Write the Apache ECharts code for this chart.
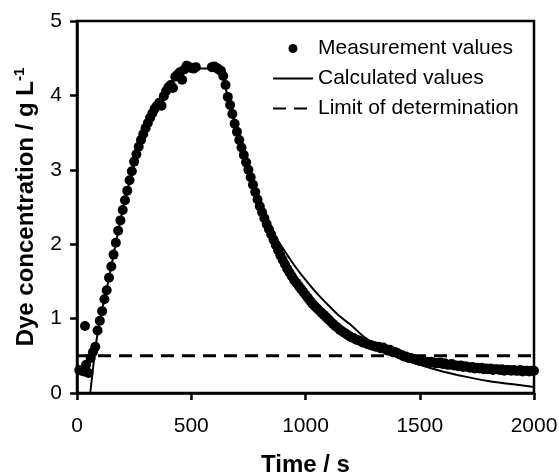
<!DOCTYPE html>
<html>
<head>
<meta charset="utf-8">
<script src="https://cdn.jsdelivr.net/npm/echarts@6/dist/echarts.min.js"></script>
<style>
  html, body { margin: 0; padding: 0; background: #fff; }
  #chart { width: 559px; height: 474px; }
</style>
</head>
<body>
<div id="chart"></div>
<script>
// measurement values (time in s, concentration in g/L)
var measTime = [
  10, 20, 30, 35, 40, 50, 60, 70, 80, 90,
  100, 110, 120, 130, 140, 150, 160, 170, 180, 190,
  200, 210, 220, 230, 240, 250, 260, 270, 280, 290,
  300, 310, 320, 330, 340, 350, 360, 370, 380, 390,
  400, 410, 420, 430, 440, 450, 460, 470, 480, 490,
  500, 510, 520, 590, 600, 610, 620, 630, 640, 650,
  660, 670, 680, 690, 700, 710, 720, 730, 740, 750,
  760, 770, 780, 790, 800, 810, 820, 830, 840, 850,
  860, 870, 880, 890, 900, 910, 920, 930, 940, 950,
  960, 970, 980, 990, 1000, 1010, 1020, 1030, 1040, 1050,
  1060, 1070, 1080, 1090, 1100, 1110, 1120, 1130, 1140, 1150,
  1160, 1170, 1180, 1190, 1200, 1210, 1220, 1230, 1240, 1250,
  1260, 1270, 1280, 1290, 1300, 1310, 1320, 1330, 1340, 1350,
  1360, 1370, 1380, 1390, 1400, 1410, 1420, 1430, 1440, 1450,
  1460, 1470, 1480, 1490, 1500, 1510, 1520, 1530, 1540, 1550,
  1560, 1570, 1580, 1590, 1600, 1610, 1620, 1630, 1640, 1650,
  1660, 1670, 1680, 1690, 1700, 1710, 1720, 1730, 1740, 1750,
  1760, 1770, 1780, 1790, 1800, 1810, 1820, 1830, 1840, 1850,
  1860, 1870, 1880, 1890, 1900, 1910, 1920, 1930, 1940, 1950,
  1960, 1970, 1980, 1990, 2000
];
var measConc = [
  0.31, 0.30, 0.29, 0.90, 0.38, 0.27, 0.47, 0.55, 0.62, 0.84,
  0.97, 1.10, 1.26, 1.38, 1.55, 1.70, 1.86, 2.02, 2.18, 2.32,
  2.46, 2.59, 2.72, 2.86, 2.98, 3.11, 3.21, 3.31, 3.40, 3.48,
  3.56, 3.63, 3.70, 3.76, 3.82, 3.86, 3.90, 3.86, 3.99, 4.06,
  4.11, 4.14, 4.10, 4.25, 4.28, 4.31, 4.21, 4.35, 4.40, 4.38,
  4.37, 4.36, 4.38, 4.38, 4.39, 4.37, 4.35, 4.33, 4.26, 4.14,
  3.98, 3.87, 3.75, 3.62, 3.51, 3.40, 3.30, 3.20, 3.10, 3.00,
  2.90, 2.80, 2.70, 2.60, 2.51, 2.43, 2.35, 2.27, 2.20, 2.13,
  2.06, 1.99, 1.92, 1.85, 1.79, 1.73, 1.67, 1.62, 1.57, 1.52,
  1.48, 1.44, 1.40, 1.36, 1.32, 1.28, 1.24, 1.20, 1.17, 1.14,
  1.11, 1.08, 1.05, 1.02, 0.99, 0.96, 0.93, 0.90, 0.88, 0.85,
  0.83, 0.81, 0.79, 0.77, 0.75, 0.74, 0.72, 0.71, 0.70, 0.68,
  0.68, 0.66, 0.65, 0.64, 0.63, 0.62, 0.62, 0.60, 0.61, 0.59,
  0.57, 0.58, 0.55, 0.55, 0.54, 0.52, 0.51, 0.49, 0.49, 0.47,
  0.47, 0.46, 0.45, 0.44, 0.43, 0.43, 0.42, 0.42, 0.41, 0.42,
  0.41, 0.40, 0.40, 0.41, 0.39, 0.40, 0.38, 0.38, 0.39, 0.37,
  0.37, 0.36, 0.37, 0.35, 0.36, 0.35, 0.34, 0.35, 0.33, 0.34,
  0.33, 0.34, 0.32, 0.33, 0.32, 0.33, 0.31, 0.32, 0.32, 0.31,
  0.32, 0.30, 0.31, 0.31, 0.30, 0.31, 0.30, 0.30, 0.31, 0.29,
  0.30, 0.30, 0.29, 0.30, 0.30
];

// calculated values
var calcTime = [58, 76, 90, 110, 130, 150, 170, 200, 225, 250, 275, 300, 325, 350, 375, 400, 425, 450, 475, 490,
  625, 650, 675, 700, 725, 750, 775, 800, 825, 850, 875, 900, 950, 1000, 1050, 1100, 1150, 1200, 1250, 1300,
  1350, 1400, 1450, 1500, 1600, 1700, 1800, 1900, 2000];
var calcConc = [0, 0.49, 0.80, 1.12, 1.40, 1.70, 2.02, 2.46, 2.78, 3.07, 3.33, 3.55, 3.73, 3.88, 4.02, 4.13, 4.22, 4.29, 4.34, 4.36,
  4.36, 4.10, 3.82, 3.55, 3.29, 3.05, 2.82, 2.60, 2.41, 2.23, 2.07, 1.95, 1.72, 1.52, 1.34, 1.18, 1.03, 0.91, 0.77, 0.66,
  0.57, 0.50, 0.44, 0.38, 0.29, 0.22, 0.16, 0.12, 0.08];

// limit of determination
var limitTime = [0, 2000];
var limitConc = [0.5, 0.5];

var xTicks = [0, 500, 1000, 1500, 2000];
var yTicks = [0, 1, 2, 3, 4, 5];

function zip(a, b) {
  var out = [];
  for (var i = 0; i < a.length; i++) out.push([a[i], b[i]]);
  return out;
}

var font = 'Liberation Sans, Arial, Helvetica, sans-serif';
var hideSym = { color: 'transparent', borderWidth: 0, opacity: 0 };
var chart = echarts.init(document.getElementById('chart'), null, { renderer: 'canvas' });
chart.setOption({
  animation: false,
  textStyle: { fontFamily: font },
  grid: {
    left: 77, top: 21, right: 25, bottom: 81, containLabel: false, outerBoundsMode: 'none',
    show: true, borderColor: '#000', borderWidth: 2.5, backgroundColor: 'transparent'
  },
  legend: {
    left: 272, top: 38, orient: 'vertical', padding: 0,
    itemWidth: 40, itemHeight: 9, itemGap: 9,
    textStyle: { fontFamily: font, fontSize: 21, color: '#000', lineHeight: 21 },
    data: [
      { name: 'Measurement values' },
      { name: 'Calculated values', itemStyle: hideSym },
      { name: 'Limit of determination', itemStyle: hideSym }
    ]
  },
  xAxis: {
    type: 'value', min: xTicks[0], max: xTicks[xTicks.length - 1], interval: 500,
    name: 'Time / s', nameLocation: 'middle', nameGap: 60,
    nameTextStyle: { fontFamily: font, fontSize: 24, fontWeight: 'bold', color: '#000', verticalAlign: 'top' },
    axisLine: { lineStyle: { color: '#000', width: 2.5 } },
    axisTick: { inside: false, length: 7, lineStyle: { color: '#000', width: 2.5 } },
    axisLabel: { fontFamily: font, fontSize: 21, color: '#000', margin: 23, formatter: function (v) { return String(v); } },
    splitLine: { show: false }
  },
  yAxis: {
    type: 'value', min: yTicks[0], max: yTicks[yTicks.length - 1], interval: 1,
    name: 'Dye concentration / g L{sup|-1}', nameLocation: 'middle', nameGap: 37,
    nameTextStyle: {
      fontFamily: font, fontSize: 24, fontWeight: 'bold', color: '#000',
      rich: { sup: { fontFamily: font, fontSize: 15, fontWeight: 'bold', color: '#000', padding: [0, 0, 13, 0] } }
    },
    axisLine: { lineStyle: { color: '#000', width: 2.5 } },
    axisTick: { inside: false, length: 7, lineStyle: { color: '#000', width: 2.5 } },
    axisLabel: { fontFamily: font, fontSize: 21, color: '#000', margin: 15 },
    splitLine: { show: false }
  },
  series: [
    {
      name: 'Measurement values', type: 'scatter', symbol: 'circle', symbolSize: 10,
      itemStyle: { color: '#000', opacity: 1 }, data: zip(measTime, measConc), z: 3
    },
    {
      name: 'Calculated values', type: 'line', symbol: 'none', smooth: 0.3,
      lineStyle: { color: '#000', width: 2 }, itemStyle: { color: '#000' },
      data: zip(calcTime, calcConc), z: 4
    },
    {
      name: 'Limit of determination', type: 'line', symbol: 'none',
      lineStyle: { color: '#000', width: 3, type: [13, 8] }, itemStyle: { color: '#000' },
      data: zip(limitTime, limitConc), z: 2
    }
  ]
});
</script>
</body>
</html>
